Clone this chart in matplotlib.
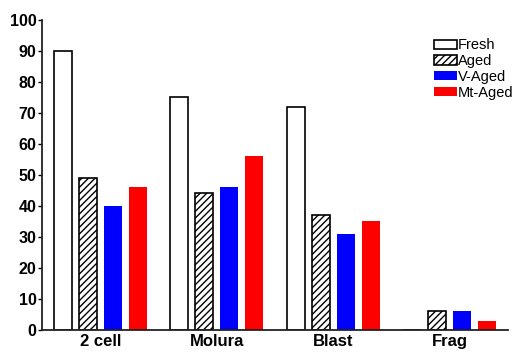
import matplotlib.pyplot as plt
import numpy as np

plt.rcParams['font.family'] = ['Liberation Sans', 'DejaVu Sans']

stages = ["2 cell", "Molura", "Blast", "Frag"]
fresh = [90, 75, 72, 0]
aged = [49, 44, 37, 6]
v_aged = [40, 46, 31, 6]
mt_aged = [46, 56, 35, 3]

series = [
    ("Fresh", fresh, "white", None),
    ("Aged", aged, "white", "/////"),
    ("V-Aged", v_aged, "#0000ff", None),
    ("Mt-Aged", mt_aged, "#ff0000", None),
]

fig = plt.figure(figsize=(5.19, 3.54), dpi=100)
ax = fig.add_axes([0.081, 0.068, 0.898, 0.876])

x = np.arange(len(stages))
pitch = 0.214
width = 0.154
for i, (name, vals, color, hatch) in enumerate(series):
    pos = x + (i - 1.5) * pitch
    if color == "white":
        ax.bar(pos, vals, width, facecolor=color, edgecolor="black",
               linewidth=1.2, hatch=hatch, label=name)
    else:
        ax.bar(pos, vals, width, color=color, label=name)

ax.set_xlim(-0.5, 3.5)
ax.set_ylim(0, 100)
ax.set_yticks(range(0, 101, 10))
ax.set_xticks(x)
ax.set_xticklabels(stages, fontsize=12, fontweight="bold")
for lab in ax.get_yticklabels():
    lab.set_fontsize(11.5)
    lab.set_fontweight("bold")
ax.tick_params(axis="x", length=0, pad=3)
ax.tick_params(axis="y", length=3, width=1, pad=1)

for s in ["top", "right"]:
    ax.spines[s].set_visible(False)
for s in ["left", "bottom"]:
    ax.spines[s].set_linewidth(1.3)
    ax.spines[s].set_color("#222222")

ax.legend(loc="upper right", bbox_to_anchor=(1.012, 0.94), frameon=False,
          fontsize=10.5, handlelength=1.6, handleheight=0.6, handletextpad=0.05,
          labelspacing=0.12, borderaxespad=0, borderpad=0)

fig.savefig("out.png", dpi=100)
